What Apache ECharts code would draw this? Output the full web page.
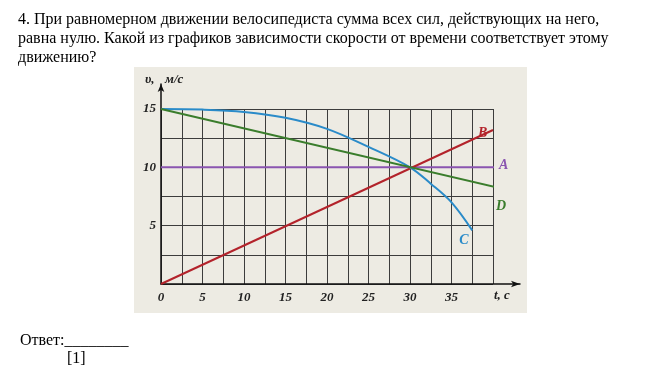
<!DOCTYPE html>
<html><head><meta charset="utf-8">
<script src="https://cdn.jsdelivr.net/npm/echarts@6/dist/echarts.min.js"></script>
<style>html,body{margin:0;padding:0;background:#fff}#c{width:670px;height:375px}</style>
</head><body><div id="c"></div>
<script>
// ---- data ----
const questionLines = [
  '4. При равномерном движении велосипедиста сумма всех сил, действующих на него,',
  'равна нулю. Какой из графиков зависимости скорости от времени соответствует этому',
  'движению?'
];
const answerText = 'Ответ:________';
const markText = '[1]';
const xAxisName = 't, c';
const yAxisNameLeft = 'υ,';
const yAxisNameRight = 'м/с';
const seriesNames = ['A', 'B', 'C', 'D'];
const tA = [0, 42];
const vA = [10, 10];
const tB = [0, 40];
const vB = [0, 13.2];
const tC = [0, 5, 10, 15, 20, 25, 30, 32.5, 35, 37.5];
const vC = [15, 14.95, 14.75, 14.25, 13.3, 11.75, 10, 8.6, 7.0, 4.6];
const tD = [0, 41.5];
const vD = [15, 8.1];

const pairs = (t, v) => t.map((x, i) => [x, v[i]]);
const serif = '"Liberation Serif", "DejaVu Serif", serif';
const labFont = { fontFamily: serif, fontWeight: 'bold', fontStyle: 'italic', fontSize: 13 };

function mkSeries(name, t, v, color, offset) {
  return {
    name, type: 'line', xAxisIndex: 0, yAxisIndex: 0,
    data: pairs(t, v), showSymbol: false, symbol: 'none',
    smooth: name === 'C' ? 0.35 : false,
    clip: false, lineStyle: { color, width: 2 }, z: 5,
    endLabel: { show: true, formatter: name, color, offset, ...labFont, fontSize: 14 }
  };
}

const chart = echarts.init(document.getElementById('c'));
chart.setOption({
  animation: false,
  backgroundColor: '#ffffff',
  grid: [
    { left: 161, right: 177, top: 109, bottom: 91 },
    { left: 161, right: 150, top: 84, bottom: 91 }
  ],
  xAxis: [
    { type: 'value', gridIndex: 0, min: 0, max: 40, interval: 2.5,
      axisLine: { show: false }, axisTick: { show: false },
      splitLine: { show: true, lineStyle: { color: '#3c3c3c', width: 1 } },
      axisLabel: { ...labFont, color: '#222', margin: 7,
        formatter: v => (v % 5 === 0 && v < 40 ? String(v) : '') } },
    { type: 'value', gridIndex: 1, min: 0, max: 1,
      axisLine: { show: true, symbol: ['none', 'arrow'], symbolSize: [5, 9], lineStyle: { color: '#111', width: 1.5 } },
      axisTick: { show: false }, axisLabel: { show: false }, splitLine: { show: false } }
  ],
  yAxis: [
    { type: 'value', gridIndex: 0, min: 0, max: 15, interval: 2.5,
      axisLine: { show: false }, axisTick: { show: false },
      splitLine: { show: true, lineStyle: { color: '#3c3c3c', width: 1 } },
      axisLabel: { ...labFont, color: '#222', margin: 5,
        formatter: v => (v % 5 === 0 && v > 0 ? String(v) : '') } },
    { type: 'value', gridIndex: 1, min: 0, max: 1,
      axisLine: { show: true, symbol: ['none', 'arrow'], symbolSize: [5, 8], lineStyle: { color: '#111', width: 1.5 } },
      axisTick: { show: false }, axisLabel: { show: false }, splitLine: { show: false } }
  ],
  series: [
    mkSeries('A', tA, vA, '#8a55b0', [-3, -2]),
    mkSeries('B', tB, vB, '#b3232b', [-23, 3]),
    mkSeries('C', tC, vC, '#2a8bc9', [-21, 10]),
    mkSeries('D', tD, vD, '#3a7d2c', [-6, 20])
  ],
  graphic: [
    { type: 'rect', shape: { x: 134, y: 67, width: 393, height: 246 }, style: { fill: '#edebe3' }, z: -10, silent: true },
    ...questionLines.map((s, i) => ({ type: 'text', x: 18, y: 12 + i * 19,
      style: { text: s, font: '16px "Liberation Serif", serif', fill: '#000', verticalAlign: 'top' }, z: 10 })),
    { type: 'text', x: 20, y: 333, style: { text: answerText, font: '16px "Liberation Serif", serif', fill: '#000', verticalAlign: 'top' } },
    { type: 'text', x: 67, y: 351, style: { text: markText, font: '16px "Liberation Serif", serif', fill: '#000', verticalAlign: 'top' } },
    { type: 'text', x: 494, y: 289, style: { text: xAxisName, font: 'italic bold 13px "Liberation Serif", serif', fill: '#222', verticalAlign: 'top' }, z: 10 },
    { type: 'text', x: 145, y: 73, style: { text: yAxisNameLeft, font: 'italic bold 13px "Liberation Serif", serif', fill: '#222', verticalAlign: 'top' }, z: 10 },
    { type: 'text', x: 165, y: 73, style: { text: yAxisNameRight, font: 'italic bold 13px "Liberation Serif", serif', fill: '#222', verticalAlign: 'top' }, z: 10 }
  ]
});
</script></body></html>
